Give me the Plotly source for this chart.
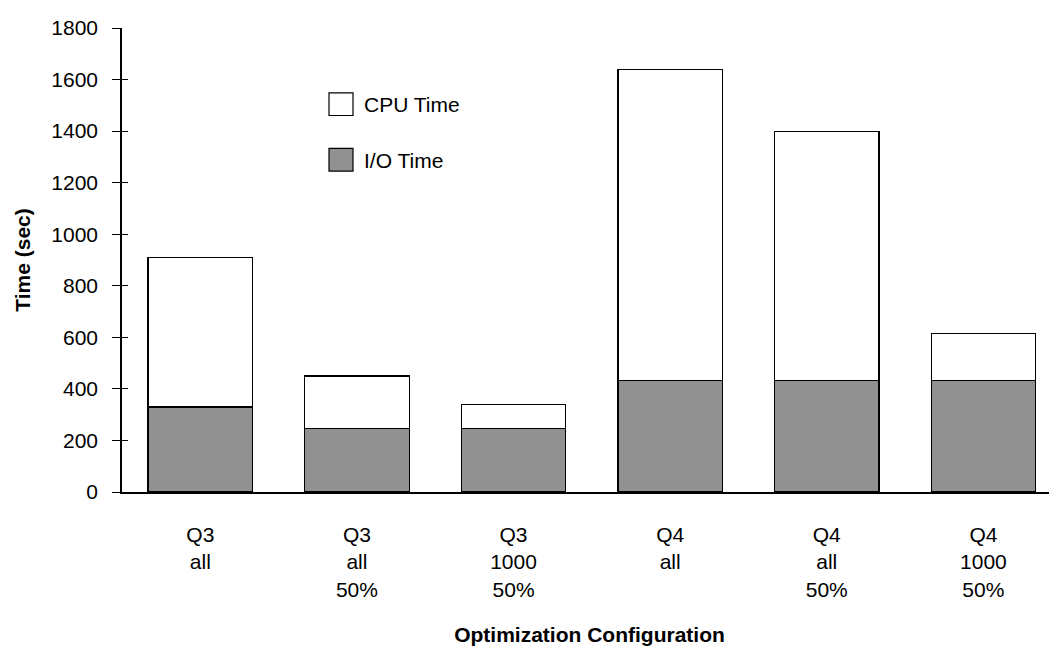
import plotly.graph_objects as go

# configurations on the x axis (query / rows / sample)
configs = ["Q3<br>all", "Q3<br>all<br>50%", "Q3<br>1000<br>50%",
           "Q4<br>all", "Q4<br>all<br>50%", "Q4<br>1000<br>50%"]

# time split in seconds
io_time = [330, 245, 245, 432, 434, 432]
total_time = [910, 450, 340, 1640, 1400, 615]
cpu_time = [t - io for t, io in zip(total_time, io_time)]

legend_names = ["CPU Time", "I/O Time"]
legend_fills = ["white", "#919191"]

FONT = "Liberation Sans, Arial, sans-serif"

# plot area in page pixels (page has an 8px body margin)
PX_L, PX_R, PX_T, PX_B = 122, 1057, 20, 492


def px_x(x):
    return (x - PX_L) / (PX_R - PX_L)


def px_y(y):
    return (PX_B - y) / (PX_B - PX_T)


fig = go.Figure()

fig.add_trace(go.Bar(
    x=configs, y=io_time, name="I/O Time", showlegend=False,
    marker=dict(color="#919191", line=dict(color="black", width=1.2)),
))
fig.add_trace(go.Bar(
    x=configs, y=cpu_time, name="CPU Time", showlegend=False,
    marker=dict(color="white", line=dict(color="black", width=1.2)),
))

# hand-made legend with big square swatches
shapes = []
annotations = []
for i, (name, fill) in enumerate(zip(legend_names, legend_fills)):
    top = 86 + i * 56.5
    shapes.append(dict(type="rect", xref="paper", yref="paper",
                       x0=px_x(329), x1=px_x(353),
                       y0=px_y(top + 23), y1=px_y(top),
                       fillcolor=fill, line=dict(color="black", width=1.2)))
    annotations.append(dict(xref="paper", yref="paper", x=px_x(362),
                            y=px_y(top + 12), xanchor="left", yanchor="middle",
                            text=name, showarrow=False,
                            font=dict(size=21)))

fig.update_layout(
    barmode="stack",
    bargap=0.333,
    width=1057, height=651,
    margin=dict(l=PX_L - 8, r=1057 - (PX_R - 8), t=PX_T - 8,
                b=651 - (PX_B - 8)),
    plot_bgcolor="white",
    paper_bgcolor="white",
    font=dict(family=FONT, size=21, color="black"),
    showlegend=False,
    shapes=shapes,
    annotations=annotations,
    xaxis=dict(
        range=[-0.5, 5.47],
        showline=True, linecolor="black", linewidth=1.5,
        ticks="", ticklabelstandoff=23,
        title=dict(text="<b>Optimization Configuration</b>", standoff=28,
                   font=dict(size=21)),
    ),
    yaxis=dict(
        range=[0, 1800], dtick=200,
        showline=True, linecolor="black", linewidth=1.5,
        showgrid=False, zeroline=False,
        ticks="outside", ticklen=8, tickwidth=1.2, tickcolor="black",
        ticklabelstandoff=10,
        title=dict(text="<b>Time (sec)</b>", standoff=15, font=dict(size=21)),
    ),
    # second axis only to draw the inner half of the crossing ticks
    yaxis2=dict(
        overlaying="y", side="left", range=[0, 1800], dtick=200,
        showline=False, showgrid=False, zeroline=False,
        ticks="inside", ticklen=6, tickwidth=1.2, tickcolor="black",
        showticklabels=False,
    ),
)

# invisible trace so yaxis2 gets drawn
fig.add_trace(go.Scatter(x=[configs[0]], y=[0], yaxis="y2", mode="markers",
                         marker=dict(opacity=0), showlegend=False,
                         hoverinfo="skip"))

fig.write_html("out.html")
